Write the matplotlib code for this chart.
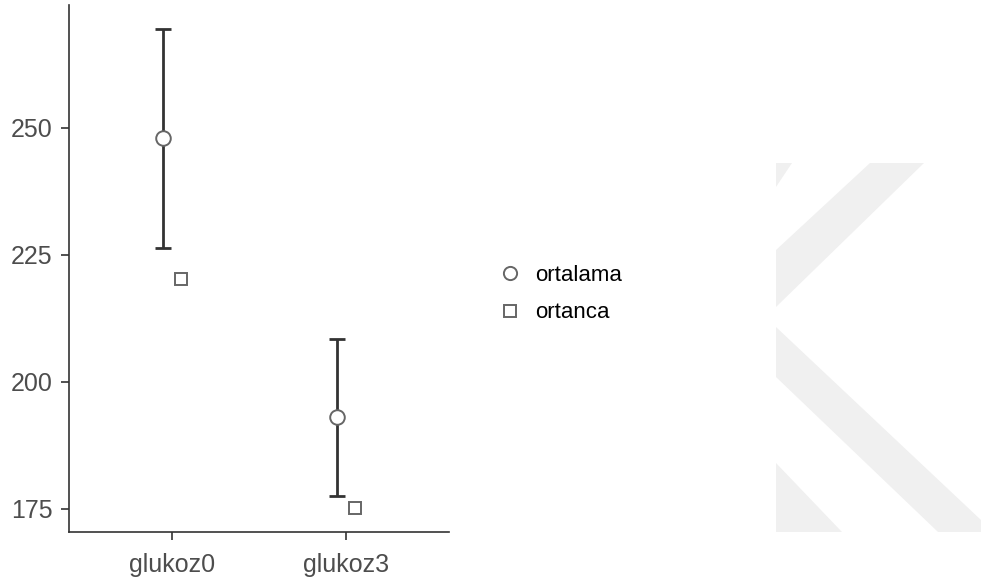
import numpy as np
import matplotlib
matplotlib.use("Agg")
import matplotlib.pyplot as plt
from matplotlib.patches import Polygon
from matplotlib.lines import Line2D

plt.rcParams['font.family'] = ['Liberation Sans', 'DejaVu Sans']

# values
categories = ['glukoz0', 'glukoz3']
mean_vals = [248.0, 193.0]
ci_low = [226.4, 177.6]
ci_high = [269.4, 208.4]
median_vals = [220.2, 175.1]

W, H = 981, 583
fig = plt.figure(figsize=(W / 100, H / 100), dpi=100)

# light watermark shapes on the right (pixel coords of the picture)
wm_shapes = [
    [(776, 163), (792, 163), (776, 187)],
    [(870, 163), (924, 163), (776, 307), (776, 250)],
    [(776, 327), (981, 520), (981, 532), (938, 532), (776, 377)],
    [(776, 463), (842, 532), (776, 532)],
]
for shp in wm_shapes:
    pts = [(x / W, 1 - y / H) for x, y in shp]
    fig.patches.append(Polygon(pts, closed=True, transform=fig.transFigure,
                               facecolor='#f0f0f0', edgecolor='none', zorder=0))

ax = fig.add_axes([69 / W, 51.3 / H, (449 - 69) / W, (578 - 51.3) / H])
ax.patch.set_alpha(0)

x = np.arange(1, len(categories) + 1)
dodge = 0.05
mean = np.array(mean_vals)
yerr = np.vstack([mean - np.array(ci_low), np.array(ci_high) - mean])

ax.errorbar(x - dodge, mean, yerr=yerr, fmt='none', ecolor='#333333',
            elinewidth=2.0, capsize=5.8, capthick=2.0, zorder=2)
ax.plot(x - dodge, mean, 'o', ms=10.5, mfc='white', mec='#666666', mew=1.4, zorder=3)
ax.plot(x + dodge, median_vals, 's', ms=8.5, mfc='white', mec='#666666', mew=1.4, zorder=3)

ax.set_xlim(0.41, 2.59)
ax.set_ylim(170.5, 274.2)
ax.set_xticks(x)
ax.set_xticklabels(categories)
ax.set_yticks([175, 200, 225, 250])

for s in ['top', 'right']:
    ax.spines[s].set_visible(False)
for s in ['left', 'bottom']:
    ax.spines[s].set_color('#333333')
    ax.spines[s].set_linewidth(1.2)
ax.tick_params(axis='both', colors='#333333', length=6, width=1.2,
               labelsize=18, labelcolor='#4d4d4d')
ax.tick_params(axis='y', pad=6)
ax.tick_params(axis='x', pad=9)

handles = [
    Line2D([], [], ls='none', marker='o', ms=9.5, mfc='white', mec='#666666', mew=1.4),
    Line2D([], [], ls='none', marker='s', ms=8, mfc='white', mec='#666666', mew=1.4),
]
fig.legend(handles, ['ortalama', 'ortanca'], loc='center left',
           bbox_to_anchor=(501 / W, 1 - 294 / H), frameon=False, fontsize=16,
           handlelength=0.8, handletextpad=0.75, labelspacing=0.75,
           borderaxespad=0, borderpad=0)

fig.savefig('out.png', dpi=100)
